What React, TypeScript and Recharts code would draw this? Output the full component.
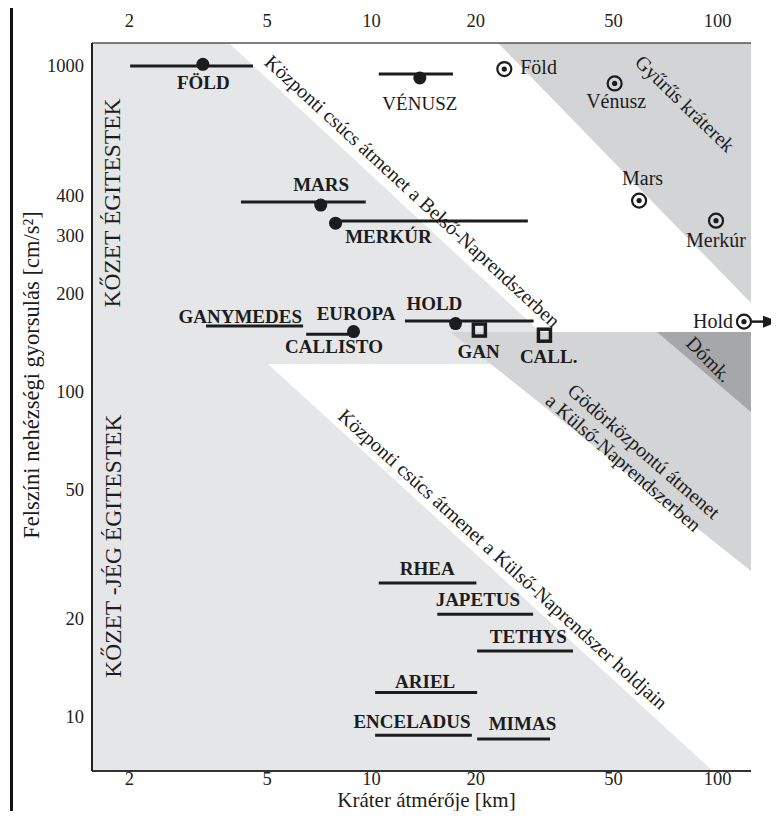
import {
  ComposedChart,
  XAxis,
  YAxis,
  Area,
  ReferenceLine,
  ReferenceDot,
  Label,
} from 'recharts';

// crater diameter [km] and surface gravity [cm/s^2], both logarithmic
const X_DOMAIN = [1.56, 124.8];
const Y_DOMAIN = [6.83, 1177];
const X_TICKS = [2, 5, 10, 20, 50, 100];
const Y_TICKS = [10, 20, 50, 100, 200, 300, 400, 1000];

// observed simple -> complex transition ranges
const rangeNames = ['FÖLD', 'VÉNUSZ', 'MARS', 'MERKÚR', 'GANYMEDES', 'CALLISTO', 'HOLD', 'RHEA', 'JAPETUS', 'TETHYS', 'ARIEL', 'ENCELADUS', 'MIMAS'];
const rangeFrom = [2.01, 10.5, 4.2, 7.88, 3.33, 6.48, 12.5, 10.5, 15.5, 20.2, 10.25, 10.25, 20.2];
const rangeTo = [4.55, 17.2, 9.63, 28.3, 6.35, 8.68, 29.4, 20.1, 29.3, 38.2, 20.2, 19.5, 32.8];
const rangeGravity = [1000, 945, 382, 334, 159, 150, 164.7, 25.8, 20.7, 15.95, 11.9, 8.8, 8.56];

// mean transition diameters (filled dots)
const dotNames = ['FÖLD', 'VÉNUSZ', 'MARS', 'MERKÚR', 'EUROPA', 'HOLD'];
const dotDiameter = [3.26, 13.8, 7.14, 7.88, 8.88, 17.5];
const dotGravity = [1012, 919, 374, 329, 152.9, 161.8];

// onset of peak-ring craters
const ringNames = ['Föld', 'Vénusz', 'Mars', 'Merkúr', 'Hold'];
const ringDiameter = [24.2, 50.4, 59.3, 98.9, 119.1];
const ringGravity = [979, 884, 386, 335, 164];

// onset of central pit craters
const pitNames = ['GAN', 'CALL.'];
const pitDiameter = [20.5, 31.6];
const pitGravity = [154.5, 149];

// shaded zones, as [low, high] gravity for a given diameter
const rockyZone = [
  { d: 1.56, g: [121.5, 1177] },
  { d: 3.88, g: [121.5, 1177] },
  { d: 30.7, g: [121.5, 152.5] },
];
const icyZone = [
  { d: 1.56, g: [6.83, 121.5] },
  { d: 5.03, g: [6.83, 121.5] },
  { d: 96.9, g: [6.83, 6.83] },
];
const peakRingZone = [
  { d: 23.2, g: [1177, 1177] },
  { d: 124.8, g: [187, 1177] },
];
const pitZone = [
  { d: 16.9, g: [152.5, 152.5] },
  { d: 124.8, g: [28.1, 152.5] },
];
const domeZone = [
  { d: 66.8, g: [152.5, 152.5] },
  { d: 124.8, g: [86.5, 152.5] },
];

const FONT = '"Liberation Serif", "Times New Roman", serif';
const INK = '#1c1c1c';
const LIGHT = '#e5e6e8';
const MID = '#d3d4d6';
const DARK = '#a6a7aa';

type Tag = {
  text: string;
  d: number;
  g: number;
  size?: number;
  bold?: boolean;
  anchor?: 'start' | 'middle' | 'end';
  angle?: number;
  baseline?: boolean;
};

// label anchors, in data units
const tags: Tag[] = [
  { text: 'FÖLD', d: 3.27, g: 887, bold: true },
  { text: 'VÉNUSZ', d: 13.8, g: 769, size: 19 },
  { text: 'MARS', d: 7.16, g: 432, bold: true },
  { text: 'MERKÚR', d: 11.2, g: 300, bold: true },
  { text: 'GANYMEDES', d: 4.18, g: 170, bold: true },
  { text: 'EUROPA', d: 9.03, g: 174, bold: true },
  { text: 'CALLISTO', d: 7.8, g: 137.5, bold: true },
  { text: 'HOLD', d: 15.2, g: 186, bold: true },
  { text: 'GAN', d: 20.4, g: 132.7, bold: true },
  { text: 'CALL.', d: 32.5, g: 128.1, bold: true },
  { text: 'RHEA', d: 14.5, g: 28.6, bold: true },
  { text: 'JAPETUS', d: 20.3, g: 23.0, bold: true },
  { text: 'TETHYS', d: 28.4, g: 17.7, bold: true },
  { text: 'ARIEL', d: 14.3, g: 12.9, bold: true },
  { text: 'ENCELADUS', d: 13.1, g: 9.69, bold: true },
  { text: 'MIMAS', d: 27.3, g: 9.55, bold: true },
  { text: 'Föld', d: 26.9, g: 995, anchor: 'start' },
  { text: 'Vénusz', d: 50.9, g: 780 },
  { text: 'Mars', d: 60.7, g: 453 },
  { text: 'Merkúr', d: 98.9, g: 293 },
  { text: 'Hold', d: 96.9, g: 165.2 },
  { text: 'Központi csúcs átmenet a Belső-Naprendszerben', d: 13.15, g: 413, angle: 42.5 },
  { text: 'Gyűrűs kráterek', d: 80.5, g: 767, angle: 44 },
  { text: 'Dómk.', d: 94.4, g: 125.8, angle: 45 },
  { text: 'Gödörközpontú átmenet', d: 61.3, g: 65.6, angle: 41 },
  { text: 'a Külső-Naprendszerben', d: 53.5, g: 60.5, angle: 41 },
  { text: 'Központi csúcs átmenet a Külső-Naprendszer holdjain', d: 24.0, g: 30.6, angle: 42.2 },
  { text: 'KŐZET ÉGITESTEK', d: 1.88, g: 379.5, angle: -90, size: 23.5, baseline: true },
  { text: 'KŐZET -JÉG ÉGITESTEK', d: 1.894, g: 33.5, angle: -90, size: 23.5, baseline: true },
];

const textShape = (t: Tag) => (p: any) => (
  <text
    x={p.cx}
    y={p.cy}
    textAnchor={t.anchor || 'middle'}
    dominantBaseline={t.baseline ? 'alphabetic' : 'central'}
    fontFamily={FONT}
    fontSize={t.size || (t.bold ? 19 : 20)}
    fontWeight={t.bold ? 'bold' : 'normal'}
    fill={INK}
    transform={t.angle ? `rotate(${t.angle} ${p.cx} ${p.cy})` : undefined}
  >
    {t.text}
  </text>
);

const dotShape = (p: any) => <circle cx={p.cx} cy={p.cy} r={6.5} fill={INK} />;

const ringShape = (name: string) => (p: any) => (
  <g>
    <circle cx={p.cx} cy={p.cy} r={7} fill="none" stroke={INK} strokeWidth={2.2} />
    <circle cx={p.cx} cy={p.cy} r={2.6} fill={INK} />
    {name === 'Hold' && (
      <g>
        <line x1={p.cx + 8} y1={p.cy} x2={p.cx + 24} y2={p.cy} stroke={INK} strokeWidth={2.5} />
        <polygon
          points={`${p.cx + 19},${p.cy - 6} ${p.cx + 35},${p.cy} ${p.cx + 19},${p.cy + 6}`}
          fill={INK}
        />
      </g>
    )}
  </g>
);

const squareShape = (p: any) => (
  <rect x={p.cx - 6} y={p.cy - 6} width={12} height={12} fill="none" stroke={INK} strokeWidth={3.5} />
);

// axis tick labels, drawn by hand so the serif font sticks
const tickText = (side: 'top' | 'bottom' | 'left') => (p: any) => {
  const v = p.payload ? p.payload.value : '';
  if (side === 'left') {
    return (
      <text x={p.x} y={p.y} textAnchor="end" dominantBaseline="central" fontFamily={FONT} fontSize={18.5} fill="#222">
        {v}
      </text>
    );
  }
  return (
    <text
      x={p.x}
      y={side === 'top' ? 27 : 784.5}
      textAnchor="middle"
      fontFamily={FONT}
      fontSize={18.5}
      fill="#222"
    >
      {v}
    </text>
  );
};

const zone = (data: any[], fill: string, key: string) => (
  <Area
    key={key}
    data={data}
    dataKey="g"
    type="linear"
    stroke="none"
    fill={fill}
    fillOpacity={1}
    dot={false}
    activeDot={false}
    isAnimationActive={false}
  />
);

export default function App() {
  return (
    <div style={{ margin: -8, position: 'relative', width: 779, height: 819, fontFamily: FONT }}>
      <div
        style={{ position: 'absolute', left: 10, top: 0, width: 3, height: 819, background: '#111' }}
      />
      <ComposedChart width={779} height={819} margin={{ top: 13, right: 28, bottom: 18, left: 32 }}>
        <XAxis
          dataKey="d"
          type="number"
          scale="log"
          domain={X_DOMAIN}
          allowDataOverflow
          ticks={X_TICKS}
          tickLine={false}
          tickSize={0}
          tickMargin={4}
          height={30}
          tick={tickText('bottom')}
          axisLine={{ stroke: '#333', strokeWidth: 2 }}
        >
          <Label
            content={(props: any) => {
              const vb = props.viewBox || { x: 92, width: 659 };
              return (
                <text
                  x={vb.x + vb.width / 2 + 5}
                  y={807}
                  textAnchor="middle"
                  fontFamily={FONT}
                  fontSize={21}
                  fill={INK}
                >
                  Kráter átmérője [km]
                </text>
              );
            }}
          />
        </XAxis>
        <XAxis
          xAxisId="top"
          orientation="top"
          dataKey="d"
          type="number"
          scale="log"
          domain={X_DOMAIN}
          allowDataOverflow
          ticks={X_TICKS}
          tickLine={false}
          tickSize={0}
          tickMargin={15}
          height={30}
          tick={tickText('top')}
          axisLine={{ stroke: '#555', strokeWidth: 1.5 }}
        />
        <YAxis
          type="number"
          scale="log"
          domain={Y_DOMAIN}
          allowDataOverflow
          ticks={Y_TICKS}
          tickLine={false}
          tickSize={0}
          tickMargin={8}
          width={60}
          tick={tickText('left')}
          axisLine={{ stroke: '#222', strokeWidth: 2 }}
        >
          <Label
            content={(props: any) => {
              const vb = props.viewBox || { x: 32, y: 43, height: 728 };
              const cx = vb.x - 1;
              const cy = vb.y + vb.height / 2 - 32;
              return (
                <text
                  x={cx}
                  y={cy}
                  textAnchor="middle"
                  dominantBaseline="central"
                  fontFamily={FONT}
                  fontSize={22.5}
                  fill={INK}
                  transform={`rotate(-90 ${cx} ${cy})`}
                >
                  Felszíni nehézségi gyorsulás [cm/s²]
                </text>
              );
            }}
          />
        </YAxis>
        <YAxis
          yAxisId="right"
          orientation="right"
          type="number"
          scale="log"
          domain={Y_DOMAIN}
          allowDataOverflow
          width={0}
          tick={false}
          tickLine={false}
          axisLine={{ stroke: '#333', strokeWidth: 2 }}
        />

        {zone(rockyZone, LIGHT, 'rocky')}
        {zone(icyZone, LIGHT, 'icy')}
        {zone(peakRingZone, MID, 'ring')}
        {zone(pitZone, MID, 'pit')}
        {zone(domeZone, DARK, 'dome')}

        {rangeNames.map((n, i) => (
          <ReferenceLine
            key={`r-${n}`}
            segment={[
              { x: rangeFrom[i], y: rangeGravity[i] },
              { x: rangeTo[i], y: rangeGravity[i] },
            ]}
            stroke={INK}
            strokeWidth={3}
          />
        ))}
        {dotNames.map((n, i) => (
          <ReferenceDot key={`d-${n}`} x={dotDiameter[i]} y={dotGravity[i]} r={6.5} shape={dotShape} />
        ))}
        {ringNames.map((n, i) => (
          <ReferenceDot
            key={`o-${n}`}
            x={ringDiameter[i]}
            y={ringGravity[i]}
            r={7}
            shape={ringShape(n)}
          />
        ))}
        {pitNames.map((n, i) => (
          <ReferenceDot key={`p-${n}`} x={pitDiameter[i]} y={pitGravity[i]} r={6} shape={squareShape} />
        ))}
        {tags.map((t, i) => (
          <ReferenceDot key={`t-${i}`} x={t.d} y={t.g} r={0} shape={textShape(t)} />
        ))}
      </ComposedChart>
    </div>
  );
}
